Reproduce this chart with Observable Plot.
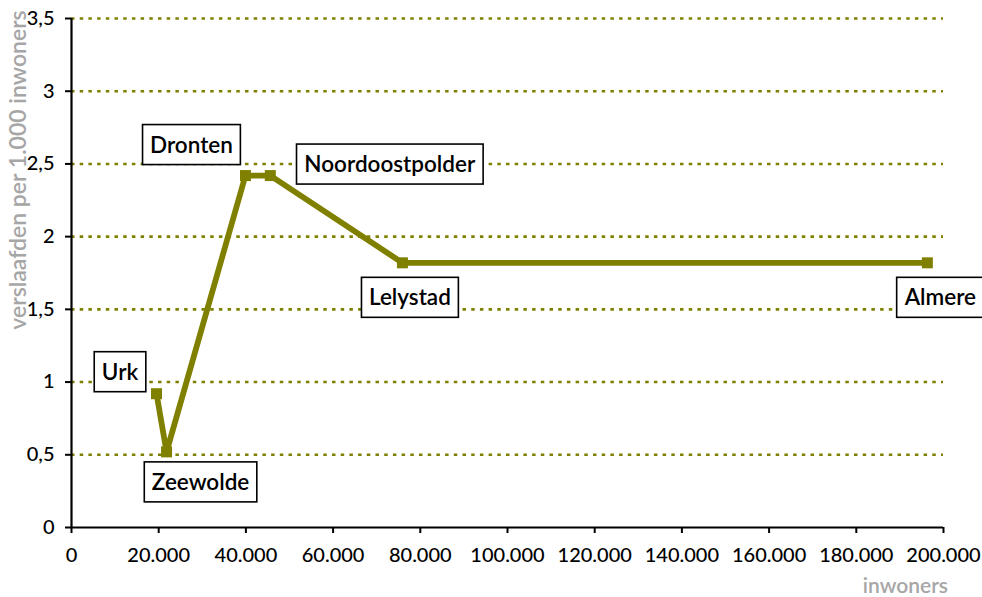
<!DOCTYPE html>
<html><head><meta charset="utf-8">
<script src="https://cdn.jsdelivr.net/npm/d3@7"></script>
<script src="https://cdn.jsdelivr.net/npm/@observablehq/plot@0.6"></script>
<style>
body{margin:0;background:#fff;}
svg{font-family:Lato,sans-serif;}
</style></head>
<body><div id="chart"></div>
<script>
const places = ["Urk","Zeewolde","Dronten","Noordoostpolder","Lelystad","Almere"];
const inwoners = [19500, 21800, 39900, 45600, 75900, 196300];
const verslaafden = [0.92, 0.52, 2.42, 2.42, 1.82, 1.82];
const yTicks = [0, 0.5, 1, 1.5, 2, 2.5, 3, 3.5];
const xTicks = [0, 20000, 40000, 60000, 80000, 100000, 120000, 140000, 160000, 180000, 200000];

const data = places.map((p,i)=>({place:p, x:inwoners[i], y:verslaafden[i]}));
// label box centre offsets (px) relative to each point
const labelDx = {Urk:-36.5, Zeewolde:34, Dronten:-54, Noordoostpolder:119.5, Lelystad:7.5, Almere:13};
const labelDy = {Urk:-22, Zeewolde:30, Dronten:-31, Noordoostpolder:-11.5, Lelystad:34.5, Almere:34.5};

const nl = d3.formatLocale({decimal:",", thousands:".", grouping:[3], currency:["€",""]});
const fx = nl.format(",.0f");
const fy = v => nl.format(",")(v);
const olive = "#808000";

const chart = Plot.plot({
  width: 982, height: 597,
  marginLeft: 71, marginRight: 39, marginTop: 18, marginBottom: 70,
  x: {domain:[0,200000], label: null},
  y: {domain:[0,3.5], label: null},
  style: {fontSize:"20px", color:"#000", fontFamily:"Lato,sans-serif", overflow:"visible"},
  marks: [
    Plot.ruleY(yTicks.filter(d=>d>0), {stroke: olive, strokeWidth: 2.6, strokeDasharray: "3.5,5.2"}),
    Plot.axisX({ticks: xTicks, tickFormat: fx, tickSize: 6, tickPadding: 14, stroke:"#000", strokeWidth: 2, className:"xax"}),
    Plot.axisY({ticks: yTicks, tickFormat: fy, tickSize: 6, tickPadding: 11, stroke:"#000", strokeWidth: 2, className:"yax"}),
    Plot.ruleX([0], {stroke:"#000", strokeWidth: 2.2}),
    Plot.ruleY([0], {stroke:"#000", strokeWidth: 2.2}),
    Plot.line(data, {x:"x", y:"y", stroke: olive, strokeWidth: 5.8}),
    Plot.dot(data, {x:"x", y:"y", symbol:"square", r: 6.2, fill: olive, stroke: "none"}),
    Plot.text(data, {x:"x", y:"y", text:"place", fontSize: 22.5, fontWeight: 600, fill:"#000", className: "lbl"})
  ]
});
document.getElementById("chart").appendChild(chart);

const svg = d3.select(chart);
svg.selectAll("g.xax text, g.yax text").attr("font-size", 20).attr("font-weight", 500).attr("fill", "#000");

// move labels and draw boxes behind them
svg.selectAll("g.lbl text").each(function(){
  const t = d3.select(this);
  const name = t.text();
  const tr = t.attr("transform") || "";
  const m = /translate\(([-\d.]+),([-\d.]+)\)/.exec(tr);
  let x = +t.attr("x") || 0, y = +t.attr("y") || 0;
  if (m) { x += +m[1]; y += +m[2]; }
  const cx = x + labelDx[name], cy = y + labelDy[name];
  t.attr("transform", null).attr("x", cx).attr("y", cy)
   .attr("dy", "0.36em").attr("text-anchor", "middle");
  const bb = this.getBBox();
  const w = bb.width + 15;
  d3.select(this.parentNode).insert("rect", () => this)
    .attr("x", cx - w/2).attr("y", cy - 20)
    .attr("width", w).attr("height", 40)
    .attr("fill", "#fff").attr("stroke", "#000").attr("stroke-width", 1.6);
});

// axis titles
svg.append("text").attr("transform", "translate(26,170) rotate(-90)")
  .attr("text-anchor","middle").attr("fill","#a6a6a6").attr("font-size",23).attr("font-weight",600)
  .text("verslaafden per 1.000 inwoners");
svg.append("text").attr("x", 948).attr("y", 593)
  .attr("text-anchor","end").attr("fill","#a6a6a6").attr("font-size",21).attr("font-weight",600)
  .text("inwoners");
</script>
</body></html>
